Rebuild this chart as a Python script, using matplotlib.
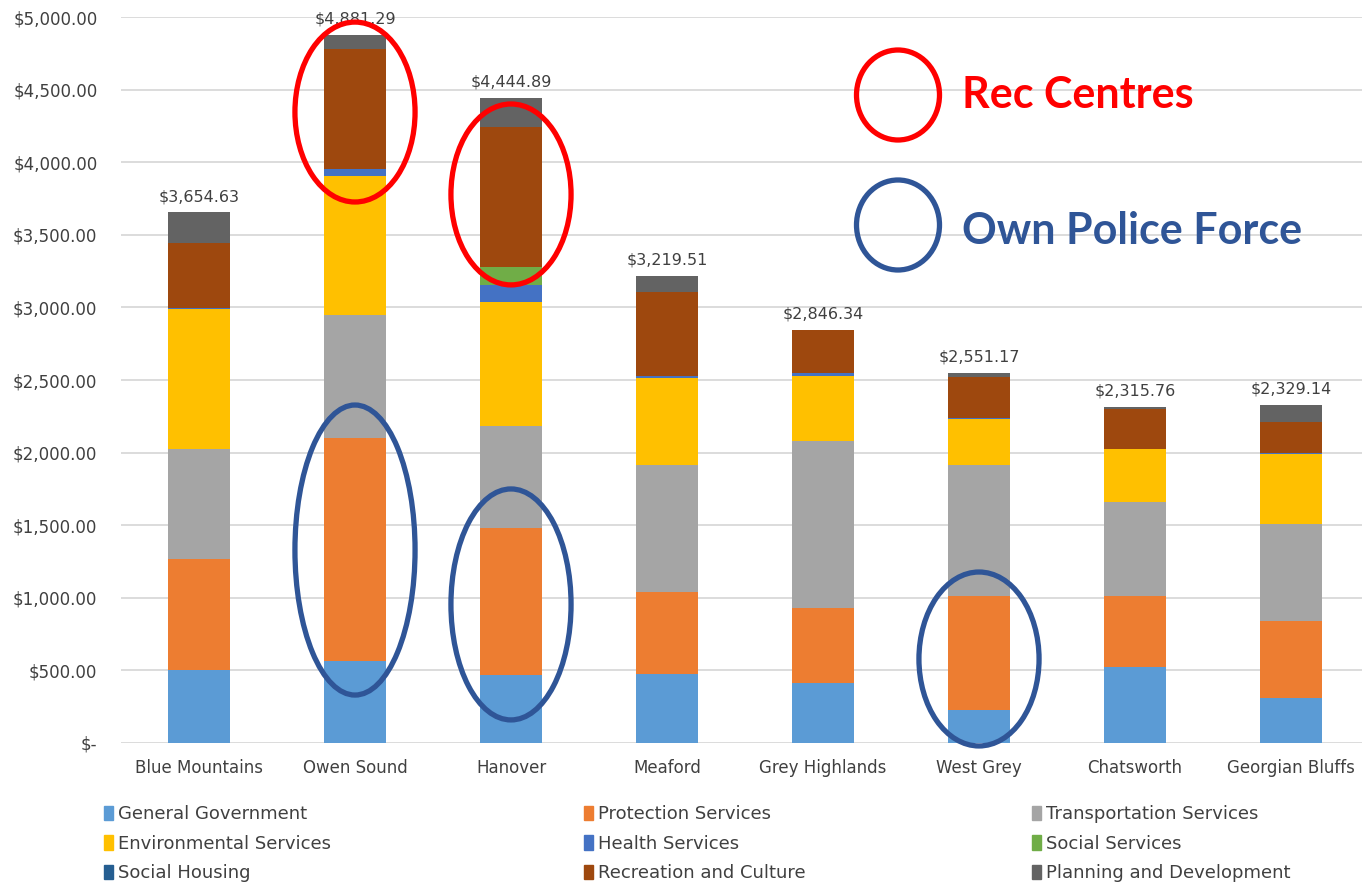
import matplotlib
matplotlib.use("Agg")
import matplotlib.pyplot as plt
import numpy as np
from matplotlib.patches import Ellipse, Patch
from matplotlib.ticker import FuncFormatter

towns = ["Blue Mountains", "Owen Sound", "Hanover", "Meaford",
         "Grey Highlands", "West Grey", "Chatsworth", "Georgian Bluffs"]
totals = [3654.63, 4881.29, 4444.89, 3219.51, 2846.34, 2551.17, 2315.76, 2329.14]

categories = ["General Government", "Protection Services", "Transportation Services",
              "Environmental Services", "Health Services", "Social Services",
              "Social Housing", "Recreation and Culture", "Planning and Development"]

general_gov = [501, 563, 465, 476, 409, 225, 524, 310]
protection = [763, 1539, 1017, 563, 521, 788, 489, 529]
transportation = [758, 848, 703, 873, 1151, 901, 646, 670]
environmental = [965, 958, 854, 605, 449, 315, 363, 481]
health = [9, 44, 115, 10, 15, 7, 4, 4]
social = [0, 0, 122, 0, 0, 0, 0, 0]
housing = [0, 0, 0, 0, 0, 0, 0, 0]
recreation = [450, 829, 965, 577, 299, 286, 275, 214]
# planning is whatever is left to reach the reported total
planning = [t - sum(p) for t, p in zip(totals, zip(general_gov, protection, transportation,
                                                  environmental, health, social, housing,
                                                  recreation))]

series = [general_gov, protection, transportation, environmental, health,
          social, housing, recreation, planning]
colors = ["#5B9BD5", "#ED7D31", "#A5A5A5", "#FFC000", "#4472C4",
          "#70AD47", "#255E91", "#9E480E", "#636363"]

W, H = 1362, 884
fig = plt.figure(figsize=(W / 100, H / 100), dpi=100)
ax = fig.add_axes([121 / W, (H - 742.7) / H, 1248 / W, 725.4 / H])

x = np.arange(len(towns))
bottom = np.zeros(len(towns))
for vals, col, name in zip(series, colors, categories):
    ax.bar(x, vals, 0.40, bottom=bottom, color=col, label=name, zorder=2)
    bottom += np.array(vals)

txt = "#404040"
for xi, t in zip(x, totals):
    ax.annotate(f"${t:,.2f}", (xi, t), xytext=(0, 6), textcoords="offset points",
                ha="center", va="bottom", fontsize=11.5, color=txt, clip_on=False)

ax.set_xlim(-0.5, len(towns) - 0.5)
ax.set_ylim(0, 5000)
ax.set_yticks(np.arange(0, 5001, 500))
ax.yaxis.set_major_formatter(FuncFormatter(lambda v, p: "$-" if v == 0 else f"${v:,.2f}"))
ax.set_xticks(x)
ax.set_xticklabels(towns)
ax.tick_params(axis="both", length=0, labelsize=12, colors=txt)
ax.tick_params(axis="x", pad=12)
ax.tick_params(axis="y", pad=17)
ax.grid(axis="y", color="#D9D9D9", lw=1.3, zorder=0)
for s in ax.spines.values():
    s.set_visible(False)

# highlight rings around the notable bars
ring_red = "#FF0000"
ring_blue = "#2F5597"
rings = [(1, 4347, ring_red, 1240), (2, 3779, ring_red, 1247),
         (1, 1328, ring_blue, 1999), (2, 953, ring_blue, 1592),
         (5, 577, ring_blue, 1199)]
for xc, yc, col, h in rings:
    ax.add_patch(Ellipse((xc, yc), 0.77, h, fill=False, edgecolor=col, lw=3.8,
                         zorder=5, clip_on=False))

# key for the rings, top right
kx = fig.add_axes([0, 0, 1, 1], facecolor="none")
kx.set_xlim(0, W)
kx.set_ylim(H, 0)
kx.axis("off")
kx.add_patch(Ellipse((898, 95), 83, 90, fill=False, edgecolor=ring_red, lw=3.8))
kx.add_patch(Ellipse((898, 225), 83, 90, fill=False, edgecolor=ring_blue, lw=3.8))
kx.text(962, 95, "Rec Centres", color=ring_red, fontsize=31, fontweight="bold",
        family="Lato", va="center", ha="left")
kx.text(962, 231, "Own Police Force", color=ring_blue, fontsize=31, fontweight="bold",
        family="Lato", va="center", ha="left")

# legend in three columns, row by row
handles = [Patch(color=c) for c in colors]
col_x = [104, 584, 1032]
for i in range(3):
    idx = [i, i + 3, i + 6]
    lg = fig.legend([handles[j] for j in idx], [categories[j] for j in idx],
                    loc="upper left", bbox_to_anchor=(col_x[i] / W, 1 - 805 / H),
                    frameon=False, fontsize=13, handlelength=0.5, handleheight=0.85,
                    handletextpad=0.25, labelspacing=0.64, borderpad=0, borderaxespad=0)
    for t in lg.get_texts():
        t.set_color(txt)

fig.savefig("out.png", dpi=100)
